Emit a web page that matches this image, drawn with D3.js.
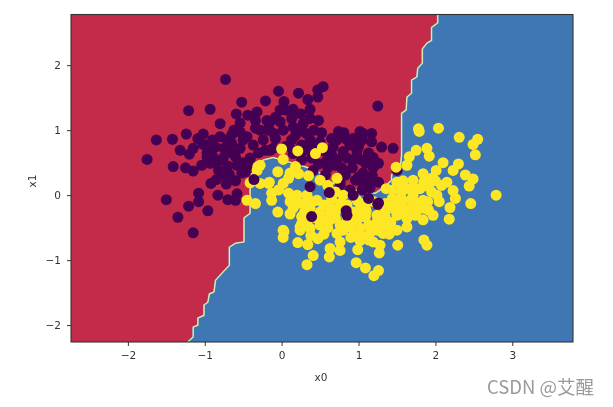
<!DOCTYPE html>
<html>
<head>
<meta charset="utf-8">
<script src="https://cdn.jsdelivr.net/npm/d3@7"></script>
<style>
  html, body { margin: 0; padding: 0; background: #fff; }
  svg { display: block; filter: blur(0.45px); }
  text { font-family: "DejaVu Sans", sans-serif; }
</style>
</head>
<body>
<svg width="613" height="407"></svg>
<script>
const xTicks = [-2, -1, 0, 1, 2, 3];
const yTicks = [-2, -1, 0, 1, 2];
const xDomain = [-2.74, 3.79];
const yDomain = [-2.26, 2.78];

// decision boundary, top edge to bottom edge
const boundary = [
  [2.03,2.78],[2.03,2.65],[1.95,2.58],[1.95,2.38],[1.89,2.34],[1.83,2.25],[1.83,2.03],[1.77,1.95],
  [1.76,1.82],[1.69,1.77],[1.69,1.57],[1.63,1.51],[1.62,1.31],[1.56,1.26],[1.56,0.62],[1.55,0.49],
  [1.49,0.43],[1.43,0.31],[1.43,0.23],[1.32,0.11],[1.22,0.03],[0.93,0.08],[0.78,0.13],[0.63,0.20],
  [0.46,0.38],[0.24,0.46],[-0.11,0.58],[-0.24,0.54],[-0.37,0.43],[-0.41,0.23],[-0.41,-0.28],
  [-0.49,-0.35],[-0.49,-0.72],[-0.60,-0.74],[-0.68,-0.80],[-0.68,-1.08],[-0.76,-1.18],[-0.86,-1.31],
  [-0.88,-1.49],[-0.94,-1.52],[-0.96,-1.65],[-1.01,-1.69],[-1.01,-1.85],[-1.09,-1.89],[-1.09,-2.0],
  [-1.15,-2.03],[-1.15,-2.18],[-1.22,-2.26]
];

// class 0 points (dark purple), drawn first
const class0 = [
  [-0.73,1.78],[-1.21,1.30],[-0.93,1.32],[-0.52,1.43],[-0.21,1.45],[-0.80,1.10],[-0.59,1.25],[-1.63,0.85],
  [-1.42,0.86],[-1.24,0.94],[-1.02,0.94],[-1.09,0.87],[-1.32,0.69],[-1.20,0.63],[-1.75,0.55],[-1.02,0.78],
  [-0.80,0.90],[-0.86,0.74],[-0.71,0.85],[-0.54,1.11],[-0.32,1.28],[-0.44,1.23],[-0.34,1.15],[-0.34,1.03],
  [-0.54,0.97],[-0.19,1.15],[-0.18,1.00],[-0.45,0.90],[-0.24,0.85],[-0.37,0.77],[-0.54,0.72],[-0.76,0.57],
  [-0.97,0.65],[-0.41,0.57],[-0.21,0.69],
  [0.54,1.67],[0.47,1.62],[0.47,1.51],[0.22,1.57],[-0.04,1.60],[0.34,1.47],[1.25,1.37],[0.03,1.44],
  [-0.02,1.31],[0.15,1.32],[0.37,1.32],[0.05,1.31],[0.37,1.18],[0.48,1.15],[0.13,1.18],[-0.15,1.13],
  [-0.02,1.13],[0.28,1.10],[-0.17,1.03],[0.15,1.05],[0.24,1.00],[0.52,0.96],[0.74,0.98],[0.81,0.96],
  [1.02,0.98],[1.17,0.95],[1.17,0.82],[1.30,0.74],[0.93,0.87],[0.65,0.87],[0.37,0.85],[0.13,0.85],
  [-0.08,0.87],[0.39,0.74],[0.89,0.77],[0.67,0.74],[-0.15,0.69],[0.80,0.67],[1.13,0.65],[0.98,0.67],
  [0.65,0.62],[0.15,0.69],[0.41,0.62],[0.26,0.77],[1.19,0.58],[0.85,0.57],[1.45,0.72],[1.06,0.95],
  [1.13,0.62],[1.26,0.49],[1.09,0.49],[1.19,0.42],[1.06,0.34],[1.26,0.20],[1.50,0.38],[1.05,0.08],
  [0.70,0.46],[0.83,0.31],[0.92,0.54],[0.76,0.15],[0.57,0.31],[0.96,0.23],[0.89,0.08],
  [-1.41,0.44],[-1.25,0.42],[-1.15,0.37],[-1.04,0.46],[-0.97,0.59],[-0.93,0.49],[-0.82,0.38],[-0.78,0.54],
  [-0.60,0.59],[-0.58,0.46],[-0.41,0.55],[-0.47,0.36],[-0.60,0.22],[-0.72,0.17],[-0.76,0.31],[-0.92,0.18],
  [-0.85,0.24],[-1.08,0.03],[-1.08,-0.10],[-1.21,-0.17],[-0.96,-0.24],[-0.83,0.00],[-0.70,-0.07],[-0.58,0.02],
  [-0.60,-0.08],[-1.50,-0.07],[-1.35,-0.34],[-1.15,-0.58],[-0.52,0.34],[0.26,0.54],[0.39,0.57],[0.60,0.42],
  [0.41,0.38],[1.06,0.15],[0.76,0.20],[0.15,0.64],[-0.11,0.72],
  [-0.90,0.85],[-0.75,0.72],[-0.65,0.65],[-0.65,0.80],[-0.50,0.85],[-0.90,0.60],[-0.85,0.50],[-0.70,0.45],
  [-0.68,0.32],[-0.50,0.50],[-0.30,0.65],[-0.42,0.42],[-0.10,0.95],[0.02,1.00],[0.05,0.75],[0.18,0.92],
  [0.32,0.95],[0.42,1.00],[0.50,0.82],[0.28,0.68],[0.55,0.68],[0.72,0.55],[0.58,0.52],[0.48,0.48],
  [0.78,0.42],[0.92,0.42],[1.00,0.75],[1.02,0.55],[1.00,0.28],[1.12,0.22],[1.18,0.30],[0.85,0.85],
  [1.05,0.85],[0.72,0.85],[-0.28,1.00],[-0.08,1.20],[0.25,1.25],[-0.62,1.00],[-0.65,0.93],[-0.95,0.78],
  [-1.15,0.72]
];

// class 1 points (yellow)
const class1 = [
  [0.00,0.71],[0.21,0.68],[0.53,0.73],[0.02,0.55],[0.44,0.64],[-0.28,0.46],[-0.32,0.38],[-0.05,0.36],
  [-0.16,0.20],[-0.41,0.19],[-0.34,-0.13],[-0.45,-0.08],[-0.13,0.03],[-0.04,0.08],[-0.13,-0.08],[0.09,0.26],
  [0.02,0.18],[0.18,0.44],[0.22,0.33],[0.35,0.30],[0.11,0.34],[0.50,0.23],[0.60,0.15],[0.70,0.05],
  [0.72,0.26],[-0.05,-0.26],[0.02,-0.54],[0.11,-0.29],[0.09,0.03],[0.20,0.00],[0.33,0.00],[0.46,-0.08],
  [0.28,-0.13],[0.20,-0.13],[0.11,-0.10],[0.37,-0.20],[0.26,-0.33],[0.50,-0.26],[0.63,-0.18],[0.76,-0.13],
  [0.98,-0.08],[0.93,-0.26],[1.06,-0.33],[0.24,-0.49],[0.37,-0.51],[0.50,-0.46],[0.63,-0.38],[0.76,-0.46],
  [0.89,-0.46],[1.02,-0.51],[0.03,-0.56],[0.02,-0.65],[0.21,-0.73],[0.34,-0.76],[0.47,-0.67],[0.41,-0.93],
  [0.33,-1.07],[0.62,-0.95],[0.63,-0.82],[0.76,-0.85],[0.99,-0.84],[0.97,-1.04],[1.09,-1.12],[1.26,-1.16],
  [1.20,-1.24],[1.27,-0.89],[1.51,-0.77],[1.85,-0.69],[1.89,-0.77],[1.84,-0.38],[0.26,-0.44],[0.24,-0.54],
  [0.76,-0.72],[0.72,-0.59],[0.80,-0.54],[1.06,-0.64],[1.13,-0.69],[1.19,-0.72],[1.28,-0.77],[1.32,-0.59],
  [1.24,-0.54],[1.37,-0.49],[1.50,-0.54],[1.63,-0.49],[1.50,-0.31],[1.63,-0.36],[1.74,-0.31],[1.48,-0.23],
  [1.58,-0.20],[1.71,-0.15],[1.84,-0.20],[1.13,-0.46],[1.24,-0.41],[1.09,-0.33],[0.54,-0.38],[0.63,-0.28],
  [0.89,-0.49],[0.98,-0.38],[1.06,-0.20],[1.41,-0.15],[1.24,-0.31],[1.78,1.02],[1.79,0.98],[2.04,1.03],
  [2.31,0.89],[2.55,0.86],[2.49,0.78],[2.52,0.62],[2.79,0.00],[2.46,-0.13],[1.89,0.72],[1.92,0.60],
  [1.75,0.69],[1.66,0.59],[1.63,0.46],[1.49,0.43],[2.10,0.50],[2.30,0.48],[2.23,0.38],[2.01,0.38],
  [2.39,0.31],[2.49,0.25],[2.44,0.14],[1.84,0.33],[1.95,0.26],[2.15,0.20],[2.08,0.15],[2.23,0.07],
  [2.26,-0.05],[2.02,0.00],[2.05,-0.10],[2.19,-0.19],[1.71,0.23],[1.58,0.22],[1.50,0.20],[1.36,0.10],
  [1.56,0.05],[1.80,0.10],[1.91,0.13],[1.71,0.00],[1.44,-0.05],[1.84,-0.08],[1.35,-0.13],[1.58,-0.08],
  [1.78,-0.13],[1.91,-0.23],[1.97,-0.31],[1.48,-0.18],[1.67,-0.20],[2.18,-0.37],[1.09,-0.20],[1.28,-0.33],
  [1.02,-0.13],[-0.31,0.44],[-0.28,0.18],[-0.17,0.18],
  [0.40,-0.10],[0.55,-0.15],[0.70,-0.25],[0.85,-0.15],[0.30,-0.25],[0.15,-0.20],[0.45,-0.35],[0.60,-0.50],
  [0.85,-0.35],[0.95,-0.60],[0.70,-0.35],[0.55,-0.60],[0.38,-0.62],[0.33,-0.42],[1.15,-0.58],[1.35,-0.35],
  [1.42,-0.42],[1.20,-0.10],[1.35,-0.25],[1.55,-0.05],[1.65,0.10],[1.75,0.10],[1.85,0.20],[1.95,0.05],
  [1.70,-0.05],[1.58,0.12],[1.60,-0.30],[1.75,-0.25],[1.90,-0.10],[1.45,0.08],[2.00,0.22],[1.02,-0.70],
  [0.90,-0.65],[1.10,-0.25],[1.00,-0.25],[1.30,-0.45],[1.40,-0.60],[0.80,0.00],[0.65,-0.05]
];

// class 0 points that sit on top of the yellow ones
const class0Top = [
  [-0.36,0.24],[0.37,0.13],[0.62,0.04],[0.39,-0.33],[0.84,-0.24],[0.85,-0.31],[0.93,0.00],[1.15,0.11],
  [1.13,-0.05],[1.25,-0.14],[1.26,-0.12]
];

const svg = d3.select("svg");
const margin = { left: 71, right: 573, top: 14.5, bottom: 342 };

const x = d3.scaleLinear().domain(xDomain).range([margin.left, margin.right]);
const y = d3.scaleLinear().domain(yDomain).range([margin.bottom, margin.top]);

svg.append("defs").append("clipPath").attr("id", "plot")
  .append("rect")
  .attr("x", margin.left).attr("y", margin.top)
  .attr("width", margin.right - margin.left).attr("height", margin.bottom - margin.top);

const plot = svg.append("g").attr("clip-path", "url(#plot)");

// blue background
plot.append("rect")
  .attr("x", margin.left).attr("y", margin.top)
  .attr("width", margin.right - margin.left).attr("height", margin.bottom - margin.top)
  .attr("fill", "#3f76b4");

// red region is everything left of / above the boundary
const redRegion = [[xDomain[0], yDomain[1]], ...boundary, [xDomain[0], yDomain[0]]];
plot.append("path")
  .attr("d", d3.line().x((d) => x(d[0])).y((d) => y(d[1]))(redRegion) + "Z")
  .attr("fill", "#c42b4b");

// pale contour band between the two fills
const edge = d3.line().x((d) => x(d[0])).y((d) => y(d[1]));
plot.append("path").attr("d", edge(boundary)).attr("fill", "none")
  .attr("stroke", "#8fd0a8").attr("stroke-width", 1.6);
plot.append("path").attr("d", edge(boundary)).attr("fill", "none")
  .attr("stroke", "#f6f5b8").attr("stroke-width", 0.8);

const dots = (data, colour) =>
  plot.append("g").selectAll("circle").data(data).enter().append("circle")
    .attr("cx", (d) => x(d[0]))
    .attr("cy", (d) => y(d[1]))
    .attr("r", 5.5)
    .attr("fill", colour);

dots(class0, "#440154");
dots(class1, "#fde725");
dots(class0Top, "#440154");

// axes
const fmt = (d) => String(d).replace("-", "\u2212");
const xAxis = svg.append("g")
  .attr("transform", `translate(0,${margin.bottom})`)
  .call(d3.axisBottom(x).tickValues(xTicks).tickFormat(fmt).tickSize(4).tickPadding(6));
const yAxis = svg.append("g")
  .attr("transform", `translate(${margin.left},0)`)
  .call(d3.axisLeft(y).tickValues(yTicks).tickFormat(fmt).tickSize(4).tickPadding(6));

[xAxis, yAxis].forEach((a) => {
  a.select(".domain").remove();
  a.selectAll("line").attr("stroke", "#333");
  a.selectAll("text").attr("fill", "#333").style("font-size", "10.5px").style("font-family", "DejaVu Sans");
});

// frame
svg.append("rect")
  .attr("x", margin.left).attr("y", margin.top)
  .attr("width", margin.right - margin.left).attr("height", margin.bottom - margin.top)
  .attr("fill", "none").attr("stroke", "#333").attr("stroke-width", 1.1);

svg.append("text").attr("x", 321).attr("y", 381)
  .attr("text-anchor", "middle").attr("fill", "#333")
  .style("font-size", "10.5px").text("x0");

svg.append("text")
  .attr("transform", "translate(36,181) rotate(-90)")
  .attr("text-anchor", "middle").attr("fill", "#333")
  .style("font-size", "10.5px").text("x1");

// site watermark
svg.append("text").attr("x", 487).attr("y", 394)
  .attr("fill", "#9a9a9a")
  .style("font-family", "'Noto Sans CJK SC'")
  .style("font-size", "18.5px").text("CSDN @艾醒");
</script>
</body>
</html>
